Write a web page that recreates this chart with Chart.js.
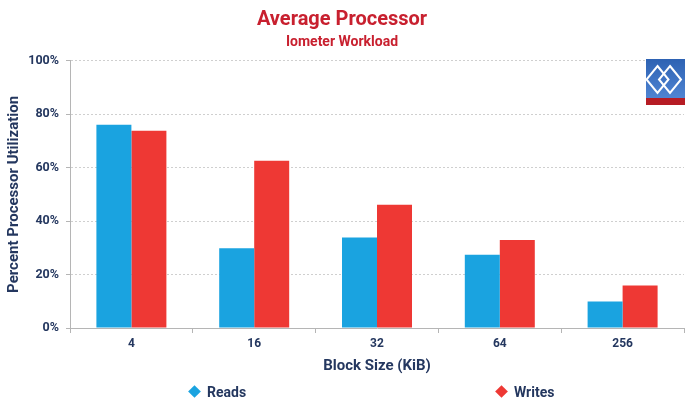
<!DOCTYPE html>
<html>
<head>
<meta charset="utf-8">
<script src="https://cdn.jsdelivr.net/npm/chart.js@4/dist/chart.umd.min.js"></script>
<style>
  html, body { margin: 0; padding: 0; background: #fff; }
  #wrap { position: relative; width: 691px; height: 400px; }
  canvas { position: absolute; left: 0; top: 0; }
  .key { position: absolute; top: 382px; font: bold 14px Roboto, sans-serif; color: #24375f; white-space: nowrap; line-height: 20px; }
  .key i { display: inline-block; width: 9px; height: 9px; transform: rotate(45deg); margin-right: 8px; vertical-align: 1px; }
  #logo { position: absolute; left: 646px; top: 59px; }
</style>
</head>
<body>
<div id="wrap">
  <canvas id="c" width="691" height="400"></canvas>
  <div class="key" style="left:190px"><i style="background:#1aa3e0"></i>Reads</div>
  <div class="key" style="left:497px"><i style="background:#ee3834"></i>Writes</div>
  <svg id="logo" width="39" height="46" viewBox="0 0 39 46">
    <defs>
      <linearGradient id="lg" x1="0" y1="0" x2="0" y2="1">
        <stop offset="0" stop-color="#2d62b3"/>
        <stop offset="1" stop-color="#4f84d2"/>
      </linearGradient>
    </defs>
    <rect x="0" y="0" width="39" height="39" fill="url(#lg)"/>
    <rect x="0" y="39" width="39" height="7" fill="#b61c24"/>
    <polygon points="11.5,7 22.5,20.5 11.5,34 0.5,20.5" fill="none" stroke="#fff" stroke-width="2"/>
    <polygon points="24,7 35,20.5 24,34 13,20.5" fill="none" stroke="#fff" stroke-width="2"/>
  </svg>
</div>
<script>
// Block sizes tested and processor utilisation (%) for each workload
const blockSizes = ['4', '16', '32', '64', '256'];
const readsUtil  = [76.1, 29.8, 33.9, 27.4, 9.9];
const writesUtil = [73.8, 62.6, 46.1, 32.9, 15.9];

const navy = '#24375f';
const titleRed = '#c8202f';
const baseFont = 'Roboto, sans-serif';

new Chart(document.getElementById('c'), {
  type: 'bar',
  data: {
    labels: blockSizes,
    datasets: [
      { label: 'Reads',  data: readsUtil,  backgroundColor: '#1aa3e0', borderWidth: 0 },
      { label: 'Writes', data: writesUtil, backgroundColor: '#ee3834', borderWidth: 0 }
    ]
  },
  options: {
    responsive: false,
    animation: false,
    devicePixelRatio: 1,
    layout: { padding: { left: 0, right: 7, top: 0, bottom: 25 } },
    datasets: { bar: { barPercentage: 1, categoryPercentage: 0.57 } },
    plugins: {
      legend: { display: false },
      tooltip: { enabled: false },
      title: {
        display: true,
        text: 'Average Processor',
        color: titleRed,
        font: { family: baseFont, size: 20, weight: 'bold' },
        padding: { top: 8, bottom: 2 }
      },
      subtitle: {
        display: true,
        text: 'Iometer Workload',
        color: titleRed,
        font: { family: baseFont, size: 14, weight: 'bold' },
        padding: { top: 0, bottom: 10 }
      }
    },
    scales: {
      x: {
        grid: { offset: true, drawOnChartArea: false, drawTicks: true, tickLength: 5, color: '#b5b5b5' },
        border: { color: '#b5b5b5' },
        ticks: { color: navy, font: { family: baseFont, size: 12, weight: 'bold' }, padding: 4 },
        title: {
          display: true,
          text: 'Block Size (KiB)',
          color: navy,
          font: { family: baseFont, size: 15, weight: 'bold' },
          padding: { top: 4, bottom: 0 }
        },
        afterFit: s => { s.height = 47; }
      },
      y: {
        min: 0,
        max: 100,
        ticks: {
          stepSize: 20,
          color: navy,
          font: { family: baseFont, size: 12.5, weight: 'bold' },
          padding: 7,
          callback: v => v + '%'
        },
        grid: { color: '#cfcfcf', tickLength: 4, tickColor: '#b5b5b5', tickBorderDash: [] },
        border: { color: '#b5b5b5', dash: [2, 2] },
        title: {
          display: true,
          text: 'Percent Processor Utilization',
          color: navy,
          font: { family: baseFont, size: 15, weight: 'bold' },
          padding: { top: 5, bottom: 0 }
        },
        afterFit: s => { s.width = 70; }
      }
    }
  }
});
</script>
</body>
</html>
